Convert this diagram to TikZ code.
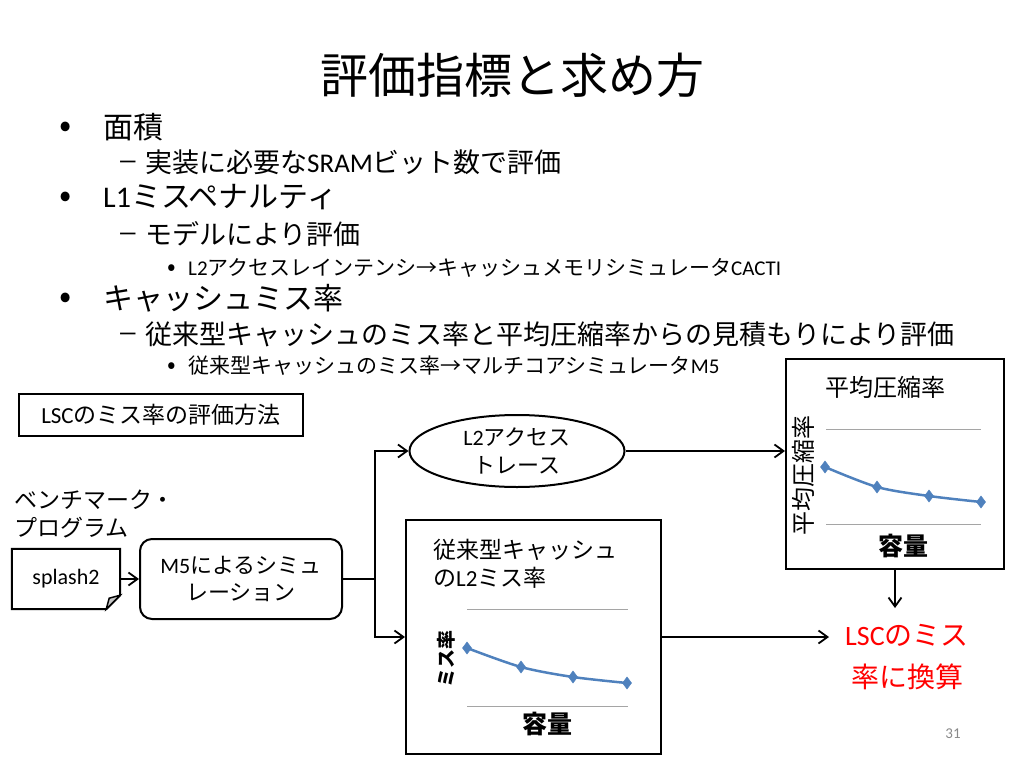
\documentclass[tikz,border=0pt]{standalone}
\usepackage{fontspec}
\setmainfont{Noto Sans CJK JP}
\newfontfamily\latfont{Carlito}
\newcommand{\lat}[1]{{\latfont #1}}
\usetikzlibrary{arrows.meta}
\usetikzlibrary{shapes.geometric}
\usetikzlibrary{plotmarks}
\tikzset{>={Straight Barb[length=9pt,width=13pt]}}
\definecolor{chartblue}{RGB}{79,129,189}
\definecolor{gridgray}{RGB}{165,165,165}
\definecolor{pagegray}{RGB}{137,137,137}
\newcommand{\sz}[2]{\fontsize{#1}{#2}\selectfont}
\newcommand{\bul}{\vphantom{面}\scalebox{1.2}{•}}
\newcommand{\dsh}{\vphantom{面}\raisebox{2pt}{\scalebox{1.6}[1]{\lat{–}}}}
\tikzstyle{boxline}=[draw=black,line width=2pt]
\tikzstyle{conn}=[line width=1.8pt]
\tikzstyle{gridline}=[draw=gridgray,line width=1pt]
\tikzstyle{curve}=[draw=chartblue,line width=2.5pt]
\tikzstyle{diamonds}=[mark=diamond*,mark size=6pt,mark options={fill=chartblue,draw=chartblue,line width=0.5pt}]
\tikzstyle{lvlone}=[anchor=west,inner sep=0pt,font=\sz{30}{36}]
\tikzstyle{lvltwo}=[anchor=west,inner sep=0pt,font=\sz{27}{32}]
\tikzstyle{lvlthree}=[anchor=west,inner sep=0pt,font=\sz{21}{26}]

\begin{document}
\begin{tikzpicture}[x=1pt,y=-1pt]
  \useasboundingbox (0,0) rectangle (1024,768);
  \node[font=\sz{48}{56}] (title) at (512,75) {評価指標と求め方};

  \node[lvlone,anchor=center] (dot1) at (66,127) {\bul};
  \node[lvlone] (area) at (103,127) {面積};
  \node[lvltwo] (dash1) at (117,162) {\dsh};
  \node[lvltwo] (sram) at (145,162) {実装に必要な\lat{SRAM}ビット数で評価};
  \node[lvlone,anchor=center] (dot2) at (66,197) {\bul};
  \node[lvlone] (penalty) at (103,197) {\lat{L1}ミスペナルティ};
  \node[lvltwo] (dash2) at (117,234) {\dsh};
  \node[lvltwo] (model) at (145,234) {モデルにより評価};
  \node[lvlthree,anchor=center] (dot3) at (172,268) {\bul};
  \node[lvlthree] (cacti) at (188,268) {\lat{L2}アクセスレインテンシ→キャッシュメモリシミュレータ\lat{CACTI}};
  \node[lvlone,anchor=center] (dot4) at (66,298) {\bul};
  \node[lvlone] (missrate) at (103,298) {キャッシュミス率};
  \node[lvltwo] (dash3) at (117,334) {\dsh};
  \node[lvltwo] (estimate) at (145,334) {従来型キャッシュのミス率と平均圧縮率からの見積もりにより評価};
  \node[lvlthree,anchor=center] (dot5) at (172,366) {\bul};
  \node[lvlthree] (mfive) at (188,366) {従来型キャッシュのミス率→マルチコアシミュレータ\lat{M5}};

  \node[boxline,minimum width=284pt,minimum height=42pt,font=\sz{23}{28}] (method) at (161,415) {\lat{LSC}のミス率の評価方法};
  \node[anchor=north west,align=left,inner sep=0pt,font=\sz{23}{28}] (bench) at (14,490) {ベンチマーク・\\プログラム};

  \node[minimum width=108pt,minimum height=60pt,inner sep=0pt,font=\sz{22}{24}] (splash) at (66,579) {\lat{splash2}};
  \draw[boxline] (splash.north west) -- (splash.north east) -- ([yshift=14pt]splash.south east)
    -- ([xshift=-14pt]splash.south east) -- (splash.south west) -- cycle;
  \draw[line width=1.5pt,fill=gray!45] ([yshift=14pt]splash.south east) -- ([xshift=-14pt]splash.south east)
    -- ([xshift=-11pt,yshift=11pt]splash.south east) -- cycle;

  \node[boxline,rounded corners=12pt,minimum width=202pt,minimum height=80pt,align=center,font=\sz{22}{27}] (sim) at (241,579) {\lat{M5}によるシミュ\\レーション};
  \coordinate (split) at (375,579);
  \node[boxline,ellipse,minimum width=215pt,minimum height=72pt,inner sep=0pt,align=center,font=\sz{22}{28}] (trace) at (517,451) {\lat{L2}アクセス\\トレース};

  \node[boxline,minimum width=255pt,minimum height=234pt] (conv) at (533.5,637) {};
  \node[anchor=north west,align=left,inner sep=0pt,font=\sz{23}{28}] (convtitle) at (433,539) {従来型キャッシュ\\の\lat{L2}ミス率};
  \draw[gridline] (467,609) -- (628,609);
  \draw[gridline] (467,706) -- (628,706);
  \draw[curve] plot[smooth,diamonds] coordinates {(467,648) (521,667) (573,677) (627,683)};
  \node[rotate=90,inner sep=0pt,font=\bfseries\sz{19}{22}] (missaxis) at (446,659) {ミス率};
  \node[inner sep=0pt,font=\bfseries\sz{25}{30}] (convcap) at (547,724) {容量};

  \node[boxline,minimum width=218pt,minimum height=210pt] (comp) at (895,464) {};
  \node[inner sep=0pt,font=\sz{24}{28}] (comptitle) at (885,387) {平均圧縮率};
  \draw[gridline] (826,429) -- (981,429);
  \draw[gridline] (826,524) -- (981,524);
  \draw[curve] plot[smooth,diamonds] coordinates {(825,467) (877,487) (929,496) (981,502)};
  \node[rotate=90,inner sep=0pt,font=\sz{24}{28}] (compaxis) at (803,475) {平均圧縮率};
  \node[inner sep=0pt,font=\bfseries\sz{25}{30}] (compcap) at (903,546) {容量};

  \node[inner sep=16pt,align=center,text=red,font=\sz{28}{42}] (lsc) at (907,657) {\lat{LSC}のミス\\率に換算};

  \draw[conn,->] (splash.east) -- (sim.west);
  \draw[conn] (sim.east) -- (split);
  \draw[conn,->] (split) |- (trace.west);
  \draw[conn,->] (split) |- (conv.west);
  \draw[conn,->] (trace.east) -- (trace.east -| comp.west);
  \draw[conn,->] (conv.east) -- (conv.east -| lsc.west);
  \draw[conn,->] (comp.south) -- (comp.south |- lsc.north);

  \node[text=pagegray,font=\latfont\sz{15}{16}] (page) at (953,734) {31};
\end{tikzpicture}
\end{document}
